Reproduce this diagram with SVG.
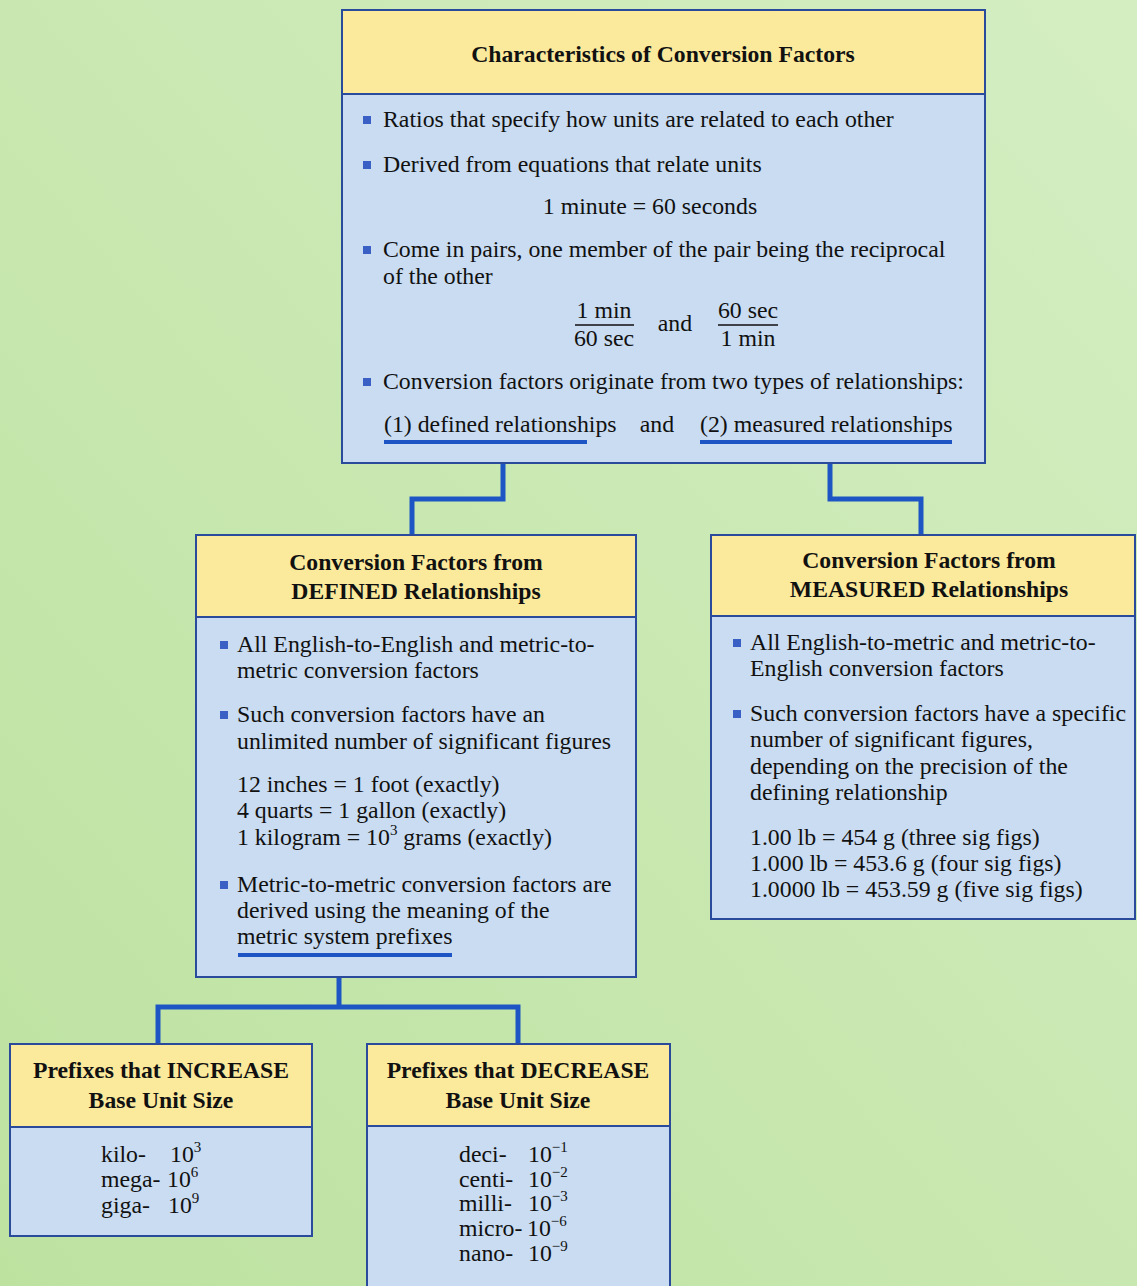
<svg xmlns="http://www.w3.org/2000/svg" width="1137" height="1286" viewBox="0 0 1137 1286">
<defs>
<linearGradient id="bg" x1="0" y1="1" x2="1" y2="0">
<stop offset="0" stop-color="#bde2a0"/>
<stop offset="1" stop-color="#d4eec2"/>
</linearGradient>
<style>
.hd{fill:#fbe99c;stroke:#2a4a9c;stroke-width:2}
.bd{fill:#c9dcf1;stroke:#2a4a9c;stroke-width:2}
text{font-family:'Liberation Serif','DejaVu Serif',serif;fill:#111}
.t{font-size:23.8px}
.b{font-size:23.7px;font-weight:bold}
.c{text-anchor:middle}
.sup{font-size:15px}
.bul{fill:#3a60c6}
.ul{fill:#1d56c4}
.fr{stroke:#111;stroke-width:1.5}
.con{fill:none;stroke:#1d56c4;stroke-width:5;stroke-linejoin:miter;stroke-linecap:butt}
</style>
</defs>
<rect x="0" y="0" width="1137" height="1286" fill="url(#bg)"/>

<g id="connectors">
<path class="con" d="M503,444 V499 H412 V535"/>
<path class="con" d="M830,444 V499 H921 V535"/>
<path class="con" d="M339,957 V1007"/>
<path class="con" d="M158,1044 V1007 H518 V1044"/>
</g>

<g id="characteristics">
<rect class="bd" x="342" y="10" width="643" height="453"/>
<rect class="hd" x="342" y="10" width="643" height="84"/>
<text class="b c" x="663" y="62">Characteristics of Conversion Factors</text>
<rect class="bul" x="363" y="116" width="8" height="8"/>
<text class="t" x="383" y="127">Ratios that specify how units are related to each other</text>
<rect class="bul" x="363" y="161" width="8" height="8"/>
<text class="t" x="383" y="172">Derived from equations that relate units</text>
<text class="t c" x="650" y="214">1 minute = 60 seconds</text>
<rect class="bul" x="363" y="246" width="8" height="8"/>
<text class="t" x="383" y="257">Come in pairs, one member of the pair being the reciprocal</text>
<text class="t" x="383" y="284">of the other</text>
<text class="t c" x="604" y="318">1 min</text>
<line class="fr" x1="575" y1="325" x2="634" y2="325"/>
<text class="t c" x="604" y="346">60 sec</text>
<text class="t c" x="675" y="331">and</text>
<text class="t c" x="748" y="318">60 sec</text>
<line class="fr" x1="718" y1="325" x2="778" y2="325"/>
<text class="t c" x="748" y="346">1 min</text>
<rect class="bul" x="363" y="378" width="8" height="8"/>
<text class="t" x="383" y="389">Conversion factors originate from two types of relationships:</text>
<text class="t" x="384" y="432">(1) defined relationships</text>
<text class="t c" x="657" y="432">and</text>
<text class="t" x="700" y="432">(2) measured relationships</text>
<rect class="ul" x="384" y="440" width="203" height="4"/>
<rect class="ul" x="700" y="440" width="252" height="4"/>
</g>

<g id="defined">
<rect class="bd" x="196" y="535" width="440" height="442"/>
<rect class="hd" x="196" y="535" width="440" height="82"/>
<text class="b c" x="416" y="570">Conversion Factors from</text>
<text class="b c" x="416" y="599">DEFINED Relationships</text>
<rect class="bul" x="220" y="641" width="8" height="8"/>
<text class="t" x="237" y="652">All English-to-English and metric-to-</text>
<text class="t" x="237" y="678">metric conversion factors</text>
<rect class="bul" x="220" y="711" width="8" height="8"/>
<text class="t" x="237" y="722">Such conversion factors have an</text>
<text class="t" x="237" y="749">unlimited number of significant figures</text>
<text class="t" x="237" y="792">12 inches = 1 foot (exactly)</text>
<text class="t" x="237" y="818">4 quarts = 1 gallon (exactly)</text>
<text class="t" x="237" y="845">1 kilogram = 10<tspan class="sup" dy="-10">3</tspan><tspan dy="10"> grams (exactly)</tspan></text>
<rect class="bul" x="220" y="881" width="8" height="8"/>
<text class="t" x="237" y="892">Metric-to-metric conversion factors are</text>
<text class="t" x="237" y="918">derived using the meaning of the</text>
<text class="t" x="237" y="944">metric system prefixes</text>
<rect class="ul" x="238" y="953" width="214" height="4"/>
</g>

<g id="measured">
<rect class="bd" x="711" y="535" width="424" height="384"/>
<rect class="hd" x="711" y="535" width="424" height="81"/>
<text class="b c" x="929" y="568">Conversion Factors from</text>
<text class="b c" x="929" y="597">MEASURED Relationships</text>
<rect class="bul" x="733" y="639" width="8" height="8"/>
<text class="t" x="750" y="650">All English-to-metric and metric-to-</text>
<text class="t" x="750" y="676">English conversion factors</text>
<rect class="bul" x="733" y="710" width="8" height="8"/>
<text class="t" x="750" y="721">Such conversion factors have a specific</text>
<text class="t" x="750" y="747">number of significant figures,</text>
<text class="t" x="750" y="774">depending on the precision of the</text>
<text class="t" x="750" y="800">defining relationship</text>
<text class="t" x="750" y="845">1.00 lb = 454 g (three sig figs)</text>
<text class="t" x="750" y="871">1.000 lb = 453.6 g (four sig figs)</text>
<text class="t" x="750" y="897">1.0000 lb = 453.59 g (five sig figs)</text>
</g>

<g id="increase">
<rect class="bd" x="10" y="1044" width="302" height="192"/>
<rect class="hd" x="10" y="1044" width="302" height="83"/>
<text class="b c" x="161" y="1078">Prefixes that INCREASE</text>
<text class="b c" x="161" y="1108">Base Unit Size</text>
<text class="t" x="101" y="1162">kilo-</text>
<text class="t" x="170" y="1162">10<tspan class="sup" dy="-10">3</tspan></text>
<text class="t" x="101" y="1187">mega-</text>
<text class="t" x="167" y="1187">10<tspan class="sup" dy="-10">6</tspan></text>
<text class="t" x="101" y="1213">giga-</text>
<text class="t" x="168" y="1213">10<tspan class="sup" dy="-10">9</tspan></text>
</g>

<g id="decrease">
<rect class="bd" x="367" y="1044" width="303" height="262"/>
<rect class="hd" x="367" y="1044" width="303" height="82"/>
<text class="b c" x="518" y="1078">Prefixes that DECREASE</text>
<text class="b c" x="518" y="1108">Base Unit Size</text>
<text class="t" x="459" y="1162">deci-</text>
<text class="t" x="528" y="1162">10<tspan class="sup" dy="-10">−1</tspan></text>
<text class="t" x="459" y="1187">centi-</text>
<text class="t" x="528" y="1187">10<tspan class="sup" dy="-10">−2</tspan></text>
<text class="t" x="459" y="1211">milli-</text>
<text class="t" x="528" y="1211">10<tspan class="sup" dy="-10">−3</tspan></text>
<text class="t" x="459" y="1236">micro-</text>
<text class="t" x="527" y="1236">10<tspan class="sup" dy="-10">−6</tspan></text>
<text class="t" x="459" y="1261">nano-</text>
<text class="t" x="528" y="1261">10<tspan class="sup" dy="-10">−9</tspan></text>
</g>
</svg>
